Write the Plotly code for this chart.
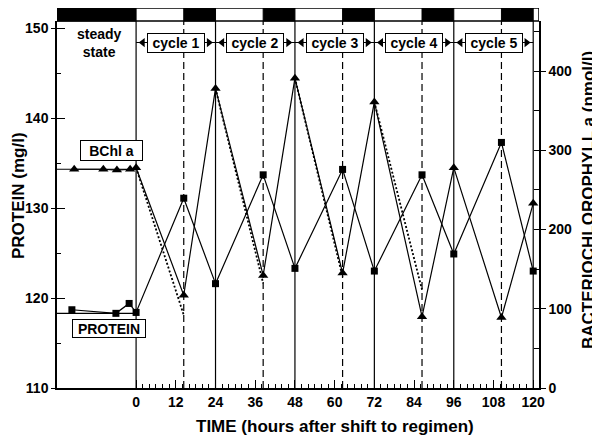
import plotly.graph_objects as go

# ---------------- data ----------------
protein_t = [-19.4, -6.1, -2.1, 0, 14.4, 24, 38.4, 48, 62.4, 72, 86.4, 96, 110.4, 120]
protein = [118.7, 118.3, 119.4, 118.4, 131.1, 121.6, 133.7, 123.3, 134.3, 123.0, 133.7, 124.9, 137.3, 123.0]

bchl_t = [-18.7, -9.9, -5.8, -1.8, 0, 14.4, 24, 38.4, 48, 62.4, 72, 86.4, 96, 110.4, 120]
bchl = [276, 276, 275, 276, 278, 117, 378, 142, 391, 145, 361, 90, 278, 89, 233]

protein_ss_mean = 118.3
bchl_ss_mean = 276

# dotted "expected" BChl decline lines
dil_start_t = [0, 24, 48, 72]
dil_start_v = [278, 378, 391, 361]
dil_end_t = [14.4, 38.4, 62.4, 86.4]
dil_end_v = [92, 132, 140, 124]

cycle_starts = [0, 24, 48, 72, 96]
cycle_ends = [24, 48, 72, 96, 120]
cycle_centers = [12, 36, 60, 84, 108]
cycle_labels = ["cycle 1", "cycle 2", "cycle 3", "cycle 4", "cycle 5"]
dark_starts = [14.4, 38.4, 62.4, 86.4, 110.4]

x_ticks = [0, 12, 24, 36, 48, 60, 72, 84, 96, 108, 120]
left_ticks = [110, 120, 130, 140, 150]
left_minor = [115, 125, 135, 145]
right_ticks = [0, 100, 200, 300, 400]
right_minor = [50, 150, 250, 350, 450]

# ---------------- layout constants ----------------
XMIN, XMAX = -23.9, 121.75
Y1 = [110, 150.8]
Y2 = [0, 463.1]
FONT = "Liberation Sans, Arial, Helvetica, sans-serif"
PLOT_H = 367.0
BAR_TOP = 1 + 13 / PLOT_H
ARROW_Y = 0.9414  # paper fraction of cycle-label row

x_minor = [v for v in range(2, 120, 2) if v % 12 != 0]

fig = go.Figure()

# steady-state mean lines
fig.add_trace(go.Scatter(x=[XMIN, 0], y=[protein_ss_mean] * 2, mode="lines",
                         line=dict(color="black", width=1.2), showlegend=False, hoverinfo="skip"))
fig.add_trace(go.Scatter(x=[XMIN, 0], y=[bchl_ss_mean] * 2, mode="lines", yaxis="y2",
                         line=dict(color="black", width=1.2), showlegend=False, hoverinfo="skip"))

# dotted expected decline
dx, dy = [], []
for a, b, c, d in zip(dil_start_t, dil_start_v, dil_end_t, dil_end_v):
    dx += [a, c, None]
    dy += [b, d, None]
fig.add_trace(go.Scatter(x=dx, y=dy, mode="lines", yaxis="y2",
                         line=dict(color="black", width=1.8, dash="2px,2px"),
                         showlegend=False, hoverinfo="skip"))

# protein
fig.add_trace(go.Scatter(x=protein_t, y=protein, mode="lines+markers", name="PROTEIN",
                         line=dict(color="black", width=1.2),
                         marker=dict(symbol="square", size=7, color="black"), showlegend=False))
# BChl
fig.add_trace(go.Scatter(x=bchl_t, y=bchl, mode="lines+markers", name="BChl a", yaxis="y2",
                         line=dict(color="black", width=1.2),
                         marker=dict(symbol="triangle-up", size=9, color="black"), showlegend=False))

# cycle arrowheads
y_arrow = Y1[0] + ARROW_Y * (Y1[1] - Y1[0])
fig.add_trace(go.Scatter(x=[c - 10 for c in cycle_centers], y=[y_arrow] * 5, mode="markers",
                         marker=dict(symbol="triangle-left", size=8, color="black"),
                         showlegend=False, hoverinfo="skip"))
fig.add_trace(go.Scatter(x=[c + 10 for c in cycle_centers], y=[y_arrow] * 5, mode="markers",
                         marker=dict(symbol="triangle-right", size=8, color="black"),
                         showlegend=False, hoverinfo="skip"))

# dummy traces for overlay tick axes
fig.add_trace(go.Scatter(x=[None], y=[None], yaxis="y3", showlegend=False))
fig.add_trace(go.Scatter(x=[None], y=[None], yaxis="y4", showlegend=False))

shapes = []
# light/dark bar
shapes.append(dict(type="rect", xref="x", yref="paper", x0=XMIN, x1=XMAX, y0=1, y1=BAR_TOP,
                   fillcolor="white", line=dict(color="black", width=1.5), layer="above"))
shapes.append(dict(type="rect", xref="x", yref="paper", x0=XMIN, x1=0, y0=1, y1=BAR_TOP,
                   fillcolor="black", line=dict(color="black", width=1), layer="above"))
for ds, ce in zip(dark_starts, cycle_ends):
    shapes.append(dict(type="rect", xref="x", yref="paper", x0=ds, x1=ce, y0=1, y1=BAR_TOP,
                       fillcolor="black", line=dict(color="black", width=1), layer="above"))
# solid cycle boundaries
for t in [0] + cycle_ends:
    shapes.append(dict(type="line", xref="x", yref="paper", x0=t, x1=t, y0=0, y1=1,
                       line=dict(color="black", width=1.2), layer="below"))
# dashed light-off lines
for t in dark_starts:
    shapes.append(dict(type="line", xref="x", yref="paper", x0=t, x1=t, y0=0, y1=1,
                       line=dict(color="black", width=1.2, dash="7px,4px"), layer="below"))
# cycle label lines
for s, e in zip(cycle_starts, cycle_ends):
    shapes.append(dict(type="line", xref="x", yref="paper", x0=s, x1=e, y0=ARROW_Y, y1=ARROW_Y,
                       line=dict(color="black", width=1.2), layer="below"))

ann = []
bold = dict(family=FONT, size=14, color="black", weight="bold")
C = dict(xanchor="center", yanchor="middle", showarrow=False)
for c, lab in zip(cycle_centers, cycle_labels):
    ann.append(dict(x=c, y=ARROW_Y, xref="x", yref="paper", text=lab,
                    font=bold, bgcolor="white", bordercolor="black", borderwidth=1, borderpad=1,
                    width=54, height=16, **C))
ann.append(dict(x=(99 - 57) / 482, y=(388 - 43) / PLOT_H, xref="paper", yref="paper",
                text="steady<br>state", font=bold, align="center", **C))
ann.append(dict(x=(111 - 57) / 482, y=(388 - 150) / PLOT_H, xref="paper", yref="paper",
                text="BChl a", font=bold, bgcolor="white", bordercolor="black", borderwidth=1,
                borderpad=1, width=59, height=17, **C))
ann.append(dict(x=(109 - 57) / 482, y=(388 - 328) / PLOT_H, xref="paper", yref="paper",
                text="PROTEIN", font=bold, bgcolor="white", bordercolor="black", borderwidth=1,
                borderpad=1, width=70, height=15, **C))
title_font = dict(family=FONT, size=17, color="black", weight="bold")
ann.append(dict(x=(18 - 57) / 482, y=(388 - 196) / PLOT_H, xref="paper", yref="paper",
                text="PROTEIN (mg/l)", textangle=-90, font=title_font, **C))
ann.append(dict(x=(588 - 57) / 482, y=(388 - 200) / PLOT_H, xref="paper", yref="paper",
                text="BACTERIOCHLOROPHYLL a (nmol/l)", textangle=-90, font=title_font, **C))
ann.append(dict(x=60, y=(388 - 427) / PLOT_H, xref="x", yref="paper",
                text="TIME (hours after shift to regimen)", font=title_font, **C))

tickfont = dict(family=FONT, size=14, color="black", weight="bold")

# page body has an 8px margin: figure is sized/offset so the picture lands where the reference has it
fig.update_layout(
    width=592, height=435,
    margin=dict(l=49, r=61, t=13, b=55, pad=0),
    paper_bgcolor="white", plot_bgcolor="white",
    shapes=shapes, annotations=ann,
    xaxis=dict(range=[XMIN, XMAX], showgrid=False, zeroline=False, showline=True,
               linecolor="black", linewidth=1.5, tickmode="array", tickvals=x_ticks,
               ticks="inside", ticklen=8, tickwidth=1.2, tickcolor="black", tickfont=tickfont,
               minor=dict(tickmode="array", tickvals=x_minor, ticks="inside", ticklen=4,
                          tickwidth=1.2, tickcolor="black")),
    yaxis=dict(range=Y1, showgrid=False, zeroline=False, showline=True, linecolor="black",
               linewidth=1.5, tickmode="array", tickvals=left_ticks, ticks="outside", ticklen=4,
               tickwidth=1.2, tickcolor="black", tickfont=tickfont,
               minor=dict(tickmode="array", tickvals=left_minor, ticks="inside", ticklen=4,
                          tickwidth=1.2, tickcolor="black")),
    yaxis3=dict(range=Y1, overlaying="y", side="left", showgrid=False, zeroline=False,
                showline=False, tickmode="array", tickvals=left_ticks, ticks="inside", ticklen=8,
                tickwidth=1.2, tickcolor="black", showticklabels=False),
    yaxis2=dict(range=Y2, overlaying="y", side="right", showgrid=False, zeroline=False,
                showline=True, linecolor="black", linewidth=1.5, tickmode="array",
                tickvals=right_ticks, ticks="outside", ticklen=5, tickwidth=1.2, tickcolor="black",
                tickfont=tickfont,
                minor=dict(tickmode="array", tickvals=right_minor, ticks="inside", ticklen=5,
                           tickwidth=1.2, tickcolor="black")),
    yaxis4=dict(range=Y2, overlaying="y", side="right", showgrid=False, zeroline=False,
                showline=False, tickmode="array", tickvals=right_ticks, ticks="inside", ticklen=5,
                tickwidth=1.2, tickcolor="black", showticklabels=False),
)

fig.write_html("out.html")
